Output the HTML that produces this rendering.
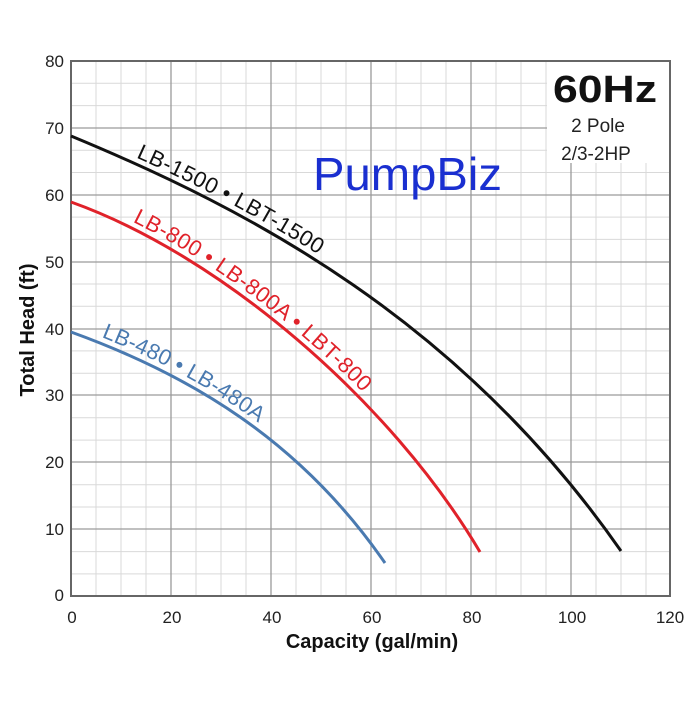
<!DOCTYPE html>
<html><head><meta charset="utf-8"><style>body{margin:0;background:#fff}</style></head>
<body>
<svg width="700" height="700" xmlns="http://www.w3.org/2000/svg" xmlns:xlink="http://www.w3.org/1999/xlink" font-family="Liberation Sans, Arial, sans-serif">
<rect width="700" height="700" fill="#fff"/>
<path stroke="#d9d9d9" stroke-width="1" fill="none" d="M96 61V596M121 61V596M146 61V596M196 61V596M221 61V596M246 61V596M296 61V596M321 61V596M346 61V596M396 61V596M421 61V596M446 61V596M496 61V596M521 61V596M546 61V596M596 61V596M621 61V596M646 61V596M71 83.3H670M71 105.6H670M71 150.2H670M71 172.5H670M71 217.1H670M71 239.4H670M71 284H670M71 306.3H670M71 350.9H670M71 373.2H670M71 417.8H670M71 440.1H670M71 484.7H670M71 507H670M71 551.6H670M71 573.9H670"/>
<path stroke="#9a9a9a" stroke-width="1.3" fill="none" d="M171 61V596M271 61V596M371 61V596M471 61V596M571 61V596M71 128H670M71 195H670M71 262H670M71 329H670M71 395H670M71 462H670M71 529H670"/>
<rect x="547" y="61" width="123" height="102" fill="#fff"/>
<rect x="71" y="61" width="599" height="535" fill="none" stroke="#666" stroke-width="2"/>
<g font-size="17" fill="#222" text-anchor="end">
<text x="64" y="67">80</text><text x="64" y="134">70</text><text x="64" y="201">60</text><text x="64" y="268">50</text>
<text x="64" y="335">40</text><text x="64" y="401">30</text><text x="64" y="468">20</text><text x="64" y="535">10</text><text x="64" y="601">0</text>
</g>
<g font-size="17" fill="#222" text-anchor="middle">
<text x="72" y="623">0</text><text x="172" y="623">20</text><text x="272" y="623">40</text><text x="372" y="623">60</text>
<text x="472" y="623">80</text><text x="572" y="623">100</text><text x="670" y="623">120</text>
</g>
<text x="372" y="648" font-size="20" font-weight="bold" text-anchor="middle" fill="#111">Capacity (gal/min)</text>
<text transform="translate(34,330) rotate(-90)" font-size="20" font-weight="bold" text-anchor="middle" fill="#111">Total Head (ft)</text>
<text x="553" y="102" font-size="38" font-weight="bold" fill="#111" textLength="104" lengthAdjust="spacingAndGlyphs">60Hz</text>
<text x="598" y="132" font-size="19" text-anchor="middle" fill="#222">2 Pole</text>
<text x="596" y="160" font-size="19" text-anchor="middle" fill="#222">2/3-2HP</text>
<text x="313" y="190" font-size="46" fill="#1a2fd0" textLength="189" lengthAdjust="spacingAndGlyphs">PumpBiz</text>
<path id="cb" fill="none" stroke="#111" stroke-width="3" d="M71,136 C250,210 460,320 621,551"/>
<path id="cr" fill="none" stroke="#e0222a" stroke-width="3" d="M71,202 C220,255 390,400 480,552"/>
<path id="cu" fill="none" stroke="#4a7ab0" stroke-width="3" d="M71,332 C190,375 300,440 385,563"/>
<text font-size="22" fill="#111" dy="-6"><textPath href="#cb" xlink:href="#cb" startOffset="68" textLength="206">LB-1500 • LBT-1500</textPath></text>
<text font-size="22" fill="#e0222a" dy="-6"><textPath href="#cr" xlink:href="#cr" startOffset="64" textLength="286">LB-800 • LB-800A • LBT-800</textPath></text>
<text font-size="22" fill="#4a7ab0" dy="-6"><textPath href="#cu" xlink:href="#cu" startOffset="30" textLength="178">LB-480 • LB-480A</textPath></text>
</svg>
</body></html>
